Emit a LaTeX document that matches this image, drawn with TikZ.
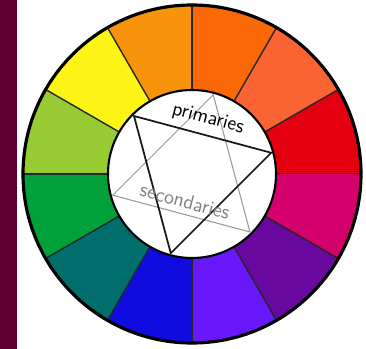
\documentclass[tikz,border=0pt]{standalone}
\usepackage{tikz}
\usetikzlibrary{calc}

\definecolor{stripMaroon}{RGB}{96,0,50}
\definecolor{wRed}{RGB}{228,0,14}
\definecolor{wRedOrange}{RGB}{250,100,50}
\definecolor{wOrange}{RGB}{250,104,8}
\definecolor{wAmber}{RGB}{248,148,12}
\definecolor{wYellow}{RGB}{252,244,20}
\definecolor{wLime}{RGB}{150,204,50}
\definecolor{wGreen}{RGB}{0,160,58}
\definecolor{wTeal}{RGB}{0,110,108}
\definecolor{wBlue}{RGB}{16,12,224}
\definecolor{wViolet}{RGB}{104,24,250}
\definecolor{wPurple}{RGB}{104,8,158}
\definecolor{wMagenta}{RGB}{212,0,108}

\tikzset{
  segline/.style={line width=0.8pt, color=black!85},
  rimline/.style={line width=1.8pt, color=black},
  primline/.style={line width=1pt, color=black!90},
  secline/.style={line width=0.6pt, color=gray!80},
  wheeltext/.style={font=\sffamily\fontsize{11.5}{13}\selectfont, inner sep=0pt, rotate=-15}
}

\begin{document}
\begin{tikzpicture}[scale=0.02]
\useasboundingbox (0,0) rectangle (366,349);
\fill[white] (0,0) rectangle (366,349);
\fill[stripMaroon] (0,0) rectangle (17,349);

\begin{scope}[shift={(192,175)}]
  % twelve segments of the wheel
  \foreach \a/\c in {0/wRed,30/wRedOrange,60/wOrange,90/wAmber,120/wYellow,150/wLime,
                     180/wGreen,210/wTeal,240/wBlue,270/wViolet,300/wPurple,330/wMagenta}{
    \fill[\c] (\a:84) -- (\a:169) arc[start angle=\a, end angle=\a+30, radius=169]
      -- (\a+30:84) arc[start angle=\a+30, end angle=\a, radius=84] -- cycle;
    \draw[segline] (\a:84) -- (\a:169);
  }
  \draw[rimline] (0,0) circle[radius=169];
  \fill[white] (0,0) circle[radius=84];
  \draw[line width=1.2pt] (0,0) circle[radius=84];

  \coordinate (Y) at (135:82);
  \coordinate (R) at (15:82);
  \coordinate (B) at (255:82);
  \coordinate (O) at (75:82);
  \coordinate (G) at (195:82);
  \coordinate (V) at (315:82);
  \draw[secline] (O) -- (G) -- (V) -- cycle;
  \draw[primline] (Y) -- (R) -- (B) -- cycle;

  \node[wheeltext] (prim) at (16,55) {primaries};
  \node[wheeltext, text=gray] (sec) at (-7,-27) {secondaries};
\end{scope}
\end{tikzpicture}
\end{document}
